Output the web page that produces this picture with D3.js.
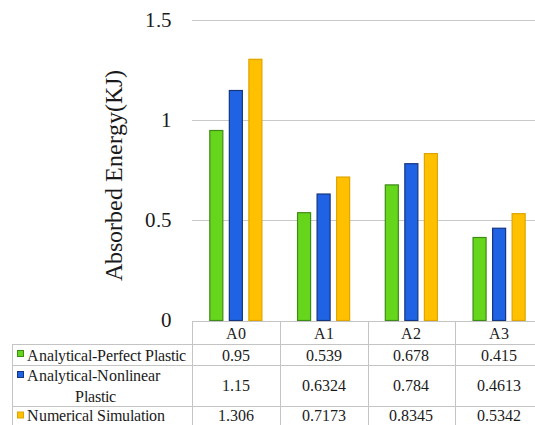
<!DOCTYPE html>
<html>
<head>
<meta charset="utf-8">
<script src="https://cdn.jsdelivr.net/npm/d3@7"></script>
<style>
  @font-face { font-family: "ChartSerif"; src: local("Liberation Serif"), local("LiberationSerif"), local("LiberationSerif-Regular"), local("Tinos"); }
  html, body { margin: 0; padding: 0; background: #fff; }
  svg { display: block; font-family: ChartSerif, "Liberation Serif", serif; }
</style>
</head>
<body>
<svg id="chart" width="535" height="425"></svg>
<script>
// Absorbed energy per specimen, three estimation methods
const categories = ["A0", "A1", "A2", "A3"];
const seriesNames = ["Analytical-Perfect Plastic", "Analytical-Nonlinear Plastic", "Numerical Simulation"];
const perfectPlastic = [0.95, 0.539, 0.678, 0.415];
const nonlinearPlastic = [1.15, 0.6324, 0.784, 0.4613];
const numericalSim = [1.306, 0.7173, 0.8345, 0.5342];
const valueLabels = [
  ["0.95", "0.539", "0.678", "0.415"],
  ["1.15", "0.6324", "0.784", "0.4613"],
  ["1.306", "0.7173", "0.8345", "0.5342"]
];
const yTicks = [0, 0.5, 1, 1.5];
const yTickLabels = ["0", "0.5", "1", "1.5"];
const yTitle = "Absorbed Energy(KJ)";

const seriesValues = [perfectPlastic, nonlinearPlastic, numericalSim];
const fills = ["#66d61c", "#1f63e4", "#ffc000"];
const strokes = ["#3d8a16", "#15357f", "#e0a400"];

const svg = d3.select("#chart");
const textColor = "#1a1a1a";
const lineColor = "#c9c9c9";

// Serif face for every label
function serif(sel, size) {
  return sel.style("font-family", "ChartSerif")
    .attr("font-size", size)
    .attr("fill", textColor);
}

const plotLeft = 192, plotRight = 543, plotTop = 20, plotBottom = 320;

const y = d3.scaleLinear().domain([0, 1.5]).range([plotBottom, plotTop]);
const x0 = d3.scaleBand().domain(categories).range([plotLeft, plotRight]).padding(0);
const x1 = d3.scaleBand().domain(d3.range(3)).range([17.3, 70.4]).paddingInner(0.282).paddingOuter(0);

// Horizontal gridlines
svg.append("g")
  .selectAll("line")
  .data(yTicks.filter(t => t > 0))
  .join("line")
  .attr("x1", plotLeft).attr("x2", 535)
  .attr("y1", d => Math.round(y(d)) + 0.5).attr("y2", d => Math.round(y(d)) + 0.5)
  .attr("stroke", lineColor).attr("stroke-width", 1);

// Y axis tick labels
const yAxis = d3.axisLeft(y).tickValues(yTicks).tickSize(0).tickPadding(0)
  .tickFormat((d, i) => yTickLabels[i]);
const yg = svg.append("g").attr("transform", "translate(172,0)").call(yAxis);
yg.attr("font-family", null).style("font-family", "ChartSerif");
yg.select(".domain").remove();
serif(yg.selectAll("text"), 21);

// Y axis title
serif(svg.append("text"), 23.5)
  .attr("transform", "translate(114,175) rotate(-90)")
  .attr("text-anchor", "middle")
  .attr("dy", "0.35em")
  .text(yTitle);

// Bars
const groups = svg.append("g")
  .selectAll("g")
  .data(categories)
  .join("g")
  .attr("transform", d => `translate(${x0(d)},0)`);

groups.selectAll("rect")
  .data((c, ci) => seriesValues.map((vals, si) => ({ si, v: vals[ci] })))
  .join("rect")
  .attr("x", d => x1(d.si) + 0.5)
  .attr("width", x1.bandwidth() - 1)
  .attr("y", d => y(d.v) + 0.5)
  .attr("height", d => plotBottom - y(d.v))
  .attr("fill", d => fills[d.si])
  .attr("stroke", d => strokes[d.si])
  .attr("stroke-width", 1.2);

// Data table under the plot
const tableLeft = 12;
const rowEdges = [321, 344, 365, 406, 425];
const rowCenters = [333.5, 355, 385.5, 415];
const table = svg.append("g");
const border = "#c4c4c4";

// Horizontal rules
table.append("line").attr("x1", plotLeft).attr("x2", 535)
  .attr("y1", rowEdges[0] + 0.5).attr("y2", rowEdges[0] + 0.5)
  .attr("stroke", border);
rowEdges.slice(1, 4).forEach(yy => {
  table.append("line").attr("x1", tableLeft).attr("x2", 535)
    .attr("y1", yy + 0.5).attr("y2", yy + 0.5).attr("stroke", border);
});
// Vertical rules
table.append("line").attr("x1", tableLeft + 0.5).attr("x2", tableLeft + 0.5)
  .attr("y1", rowEdges[1]).attr("y2", 425).attr("stroke", border);
categories.forEach(c => {
  const xx = Math.round(x0(c)) + 0.5;
  table.append("line").attr("x1", xx).attr("x2", xx)
    .attr("y1", rowEdges[0]).attr("y2", 425).attr("stroke", border);
});

// Header row
serif(table.selectAll(".hdr")
  .data(categories)
  .join("text"), 16)
  .attr("x", d => x0(d) + x0.bandwidth() / 2)
  .attr("y", rowCenters[0])
  .attr("dy", "0.35em")
  .attr("text-anchor", "middle")
  .text(d => d);

// Value cells
seriesValues.forEach((vals, si) => {
  serif(table.append("g").selectAll("text")
    .data(categories)
    .join("text"), 16)
    .attr("x", d => x0(d) + x0.bandwidth() / 2)
    .attr("y", rowCenters[si + 1])
    .attr("dy", "0.35em")
    .attr("text-anchor", "middle")
    .text((d, ci) => valueLabels[si][ci]);
});

// Legend keys and series names
const legendRows = [
  { lines: ["Analytical-Perfect Plastic"], ys: [355], key: 353.5 },
  { lines: ["Analytical-Nonlinear", "Plastic"], ys: [375, 396], key: 374.5 },
  { lines: ["Numerical Simulation"], ys: [415], key: 415 }
];
legendRows.forEach((row, si) => {
  table.append("rect")
    .attr("x", 17.5).attr("y", row.key - 3)
    .attr("width", 6).attr("height", 6)
    .attr("fill", fills[si]).attr("stroke", strokes[si]).attr("stroke-width", 1);
  row.lines.forEach((t, li) => {
    serif(table.append("text"), 16)
      .attr("x", li === 0 ? 27 : 95)
      .attr("y", row.ys[li])
      .attr("dy", "0.35em")
      .attr("text-anchor", li === 0 ? "start" : "middle")
      .text(t);
  });
});
</script>
</body>
</html>
